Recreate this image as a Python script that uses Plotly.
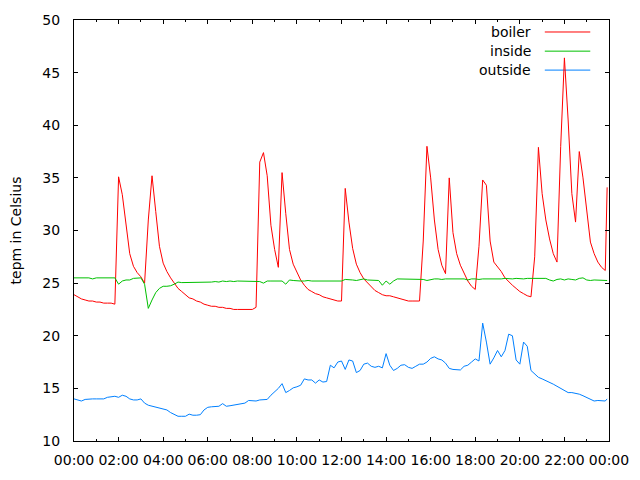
import plotly.graph_objects as go
import pandas as pd

# Time stamps (10-minute readings, final reading at 23:55)
times = list(pd.date_range("2000-01-01 00:00", periods=144, freq="10min")) + [pd.Timestamp("2000-01-01 23:55")]

boiler = [
    23.9, 23.7, 23.5, 23.4, 23.3, 23.3, 23.2, 23.2, 23.1, 23.1, 23.1, 23.0,
    35.1, 33.4, 30.5, 27.8, 26.6, 26.0, 25.6, 25.0, 31.0, 35.2, 31.8, 28.5,
    26.9, 26.1, 25.5, 25.0, 24.5, 24.2, 23.9, 23.6, 23.5, 23.3, 23.2, 23.0,
    22.9, 22.8, 22.8, 22.7, 22.7, 22.6, 22.6, 22.5, 22.5, 22.5, 22.5, 22.5,
    22.5, 22.7, 36.5, 37.4, 35.2, 30.5, 28.2, 26.5, 35.5, 31.6, 28.2, 26.8,
    26.1, 25.3, 24.8, 24.4, 24.2, 24.0, 23.9, 23.7, 23.6, 23.5, 23.4, 23.3,
    23.3, 34.0, 30.8, 28.3, 26.8, 26.0, 25.4, 25.0, 24.7, 24.3, 24.1, 23.9,
    23.8, 23.8, 23.7, 23.6, 23.5, 23.4, 23.3, 23.3, 23.3, 23.3, 29.0, 38.0,
    35.0, 31.0, 28.2, 26.7, 25.9, 35.0, 29.8, 27.8, 26.7, 25.9, 25.2, 24.7,
    24.4, 28.5, 34.8, 34.3, 29.0, 27.0, 26.6, 26.1, 25.5, 25.1, 24.8, 24.5,
    24.2, 24.0, 23.8, 23.7, 27.5, 37.9, 33.5, 31.0, 29.2, 27.8, 27.0, 38.0,
    46.4, 40.5, 33.5, 30.8, 37.5, 35.0, 32.2, 28.9, 27.8, 27.0, 26.5, 26.2,
    34.1,
]

inside = [
    25.5, 25.5, 25.5, 25.5, 25.5, 25.4, 25.5, 25.5, 25.5, 25.5, 25.5, 25.5,
    24.9, 25.2, 25.3, 25.3, 25.45, 25.5, 25.5, 24.9, 22.6, 23.4, 24.1, 24.5,
    24.7, 24.7, 24.75, 24.9, 25.1, 25.05, 25.05, 25.1, 25.05, 25.1, 25.1, 25.05,
    25.1, 25.1, 25.15, 25.1, 25.2, 25.15, 25.2, 25.15, 25.2, 25.2, 25.15, 25.2,
    25.2, 25.2, 25.15, 25.0, 25.2, 25.2, 25.2, 25.2, 25.2, 24.9, 25.3, 25.25,
    25.2, 25.2, 25.2, 25.25, 25.2, 25.2, 25.2, 25.25, 25.2, 25.2, 25.2, 25.2,
    25.2, 25.35, 25.35, 25.3, 25.25, 25.35, 25.4, 25.3, 25.3, 25.3, 25.25, 24.8,
    25.2, 24.9, 25.2, 25.4, 25.4, 25.4, 25.4, 25.4, 25.4, 25.4, 25.35, 25.25,
    25.35, 25.4, 25.4, 25.35, 25.4, 25.4, 25.4, 25.35, 25.4, 25.4, 25.3, 25.4,
    25.4, 25.35, 25.4, 25.4, 25.35, 25.4, 25.4, 25.4, 25.45, 25.4, 25.4, 25.45,
    25.4, 25.4, 25.45, 25.45, 25.45, 25.45, 25.4, 25.45, 25.3, 25.2, 25.35, 25.4,
    25.3, 25.4, 25.35, 25.3, 25.45, 25.5, 25.3, 25.25, 25.3, 25.3, 25.25, 25.3,
    25.25,
]

outside = [
    14.0, 13.9, 13.8, 13.95, 14.0, 14.0, 14.0, 14.0, 14.0, 14.15, 14.2, 14.25,
    14.15, 14.35, 14.25, 14.0, 13.9, 13.9, 14.0, 13.6, 13.4, 13.3, 13.2, 13.1,
    13.05, 12.95, 12.7, 12.5, 12.35, 12.35, 12.35, 12.55, 12.45, 12.45, 12.5, 12.95,
    13.2, 13.25, 13.3, 13.3, 13.55, 13.3, 13.35, 13.4, 13.45, 13.5, 13.6, 13.85,
    13.8, 13.8, 13.9, 13.95, 13.95, 14.35, 14.65, 15.0, 15.45, 14.6, 14.8, 15.05,
    15.15, 15.3, 15.9, 15.8, 15.8, 15.5, 15.8, 15.6, 15.65, 17.2, 16.95, 17.5,
    17.6, 16.8, 17.7, 17.6, 16.5, 16.7, 17.3, 17.4, 17.1, 17.0, 17.1, 16.95,
    18.3, 17.2, 16.7, 16.9, 17.2, 17.25, 17.0, 16.9, 17.1, 17.3, 17.3, 17.5,
    17.85, 18.0, 17.8, 17.7, 17.4, 16.9, 16.8, 16.75, 16.75, 17.1, 17.2, 17.5,
    17.8, 17.6, 21.2, 19.4, 17.3, 17.9, 18.6, 18.0, 18.6, 20.15, 20.0, 17.7,
    17.3, 19.4, 19.0, 16.7, 16.4, 16.05, 15.9, 15.75, 15.55, 15.4, 15.2, 15.0,
    14.75, 14.6, 14.6, 14.55, 14.45, 14.3, 14.15, 14.0, 13.8, 13.85, 13.8, 13.8,
    14.0,
]

series_names = ["boiler", "inside", "outside"]
series_colors = ["#ff0000", "#00c000", "#0080ff"]
series_data = [boiler, inside, outside]

FONT = "DejaVu Sans"

fig = go.Figure()
for name, color, vals in zip(series_names, series_colors, series_data):
    fig.add_trace(go.Scatter(x=times, y=vals, mode="lines", name=name,
                             line=dict(color=color, width=1), showlegend=False))

# gnuplot-style key: right-aligned label, line sample to the right
key_y = [0.9715, 0.926, 0.881]
for name, color, ky in zip(series_names, series_colors, key_y):
    fig.add_annotation(x=0.858, y=ky, xref="paper", yref="paper", text=name,
                       showarrow=False, xanchor="right", yanchor="middle",
                       font=dict(family=FONT, size=14, color="#000000"))
    fig.add_shape(type="line", xref="paper", yref="paper", x0=0.880, x1=0.965,
                  y0=ky, y1=ky, line=dict(color=color, width=1), layer="below")

axis_common = dict(showline=True, linecolor="#000000", linewidth=1, mirror="ticks",
                   ticks="inside", ticklen=4, tickcolor="#000000", showgrid=False,
                   zeroline=False, automargin=False,
                   tickfont=dict(family=FONT, size=14, color="#000000"))

# the page body has an 8px default margin; size the figure so the plot area
# lands where the reference has it inside the 640x480 window
fig.update_layout(
    width=632, height=472,
    margin=dict(l=66, r=31, t=12, b=39),
    paper_bgcolor="white", plot_bgcolor="white",
    font=dict(family=FONT, size=14, color="#000000"),
    xaxis=dict(range=["2000-01-01 00:00", "2000-01-02 00:00"], type="date",
               tickformat="%H:%M", dtick=2 * 3600 * 1000,
               tick0="2000-01-01 00:00", ticklabelstandoff=6,
               minor=dict(ticks="inside", ticklen=2, dtick=3600 * 1000, tickcolor="#000000"),
               **axis_common),
    yaxis=dict(range=[10, 50], dtick=5, tick0=10, ticklabelstandoff=10,
               title=dict(text="tepm in Celsius", standoff=18,
                          font=dict(family=FONT, size=14, color="#000000")),
               **axis_common),
)

fig.write_html("out.html")
